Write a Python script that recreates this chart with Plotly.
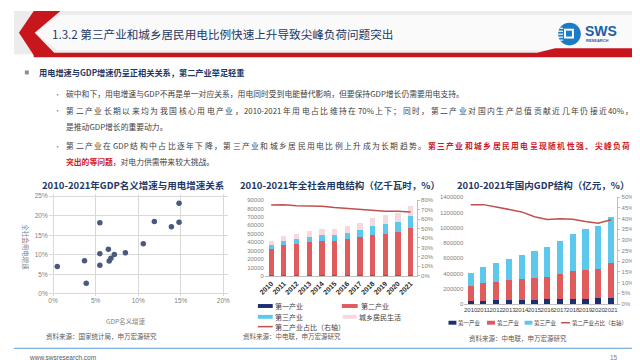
import plotly.graph_objects as go

W, H = 640, 360
def X(p): return p / W
def Y(p): return 1 - p / H

FONT = "Noto Sans CJK SC"
NAVY = "#1f3864"
C_PRI = "#1c2f72"
C_SEC = "#e05b5b"
C_TER = "#5cc8ec"
C_RES = "#f6d9dc"
C_LINE = "#c0504d"
GRAY = "#7f7f7f"
RED = "#d0191f"

# ---------------- data ----------------
years = [str(y) for y in range(2010, 2022)]

# chart 1: GDP nominal growth vs power consumption growth (%)
gdp_nominal_growth = [0.5, 3.7, 3.9, 5.5, 5.5, 5.5, 6.5, 6.6, 6.8, 7.2, 8.5, 10.6, 11.9, 13.9, 14.8, 14.8]
power_growth = [7.0, 8.5, 2.7, 18.2, 10.3, 7.3, 11.4, 8.4, 9.1, 10.1, 10.5, 12.8, 18.5, 17.2, 18.3, 23.2]
c1_x_ticks = [0, 5, 10, 15, 20]
c1_y_ticks = [0, 5, 10, 15, 20, 25]

# chart 2: electricity consumption structure (亿千瓦时)
elec_primary = [984, 1013, 1013, 1014, 994, 1020, 1075, 1155, 728, 780, 859, 1023]
elec_secondary = [31318, 35185, 36669, 39143, 40650, 40046, 42108, 44413, 47235, 49362, 51215, 56131]
elec_tertiary = [4497, 5082, 5690, 6273, 6660, 7158, 7961, 8814, 10801, 11863, 12087, 14231]
elec_residential = [5125, 5646, 6219, 6793, 6928, 7276, 8054, 8695, 9685, 10250, 10949, 11743]
elec_secondary_share = [74.7, 75.0, 73.9, 73.5, 73.6, 72.2, 71.1, 70.4, 69.0, 68.3, 68.2, 67.5]

# chart 3: GDP structure (亿元)
gdp_primary = [38431, 44781, 49085, 53028, 55626, 57775, 60139, 62100, 64745, 70474, 77754, 83086]
gdp_secondary = [191630, 227039, 244643, 261956, 277572, 281338, 295428, 331581, 364835, 380671, 383562, 450904]
gdp_tertiary = [182038, 216120, 244852, 277979, 310365, 349745, 390828, 438356, 489701, 535371, 554669, 609680]
gdp_secondary_share = [46.5, 46.5, 45.4, 44.2, 43.1, 40.8, 39.6, 39.9, 39.7, 38.6, 37.8, 39.4]

fig = go.Figure()

# chart 1 scatter
fig.add_trace(go.Scatter(x=gdp_nominal_growth, y=power_growth, mode="markers",
                         marker=dict(color="#4a5a7e", size=5.5), xaxis="x", yaxis="y"))

# chart 2 bars + line
for vals, col in [(elec_primary, C_PRI), (elec_secondary, C_SEC), (elec_tertiary, C_TER), (elec_residential, C_RES)]:
    fig.add_trace(go.Bar(x=years, y=vals, marker=dict(color=col, line=dict(width=0)),
                         width=0.42, xaxis="x2", yaxis="y2"))
fig.add_trace(go.Scatter(x=years, y=elec_secondary_share, mode="lines",
                         line=dict(color=C_LINE, width=1.5), xaxis="x2", yaxis="y3"))

# chart 3 bars + line
for vals, col in [(gdp_primary, C_PRI), (gdp_secondary, C_SEC), (gdp_tertiary, C_TER)]:
    fig.add_trace(go.Bar(x=years, y=vals, marker=dict(color=col, line=dict(width=0)),
                         width=0.48, xaxis="x3", yaxis="y4"))
fig.add_trace(go.Scatter(x=years, y=gdp_secondary_share, mode="lines",
                         line=dict(color=C_LINE, width=1.5), xaxis="x3", yaxis="y5"))

tickf = dict(family="Liberation Sans, " + FONT, size=6.5, color=GRAY)
smallf = dict(family="Liberation Sans", size=6, color=GRAY)

# chart 1 plot box: 0% at x=39.5px, 20% at 212px; 0% at y=287.7px, 25% at 188.3px
c1_px_x = (212 - 39.5) / 20
c1_px_y = (287.7 - 188.3) / 25
PADU = 0.5

fig.update_layout(
    width=W, height=H, margin=dict(l=0, r=0, t=0, b=0),
    paper_bgcolor="white", plot_bgcolor="rgba(0,0,0,0)",
    showlegend=False, barmode="stack",
    font=dict(family=FONT),
    xaxis=dict(domain=[X(39.5 - PADU * c1_px_x), X(212 + PADU * c1_px_x)], range=[-PADU, 20 + PADU],
               tickmode="array", tickvals=c1_x_ticks, ticktext=[f"{v}%" for v in c1_x_ticks],
               showgrid=True, gridcolor="#d9d9d9", gridwidth=0.8, zeroline=False,
               showline=False, tickfont=tickf, ticks="", anchor="y"),
    yaxis=dict(domain=[Y(287.7 + PADU * c1_px_y), Y(188.3 - PADU * c1_px_y)], range=[-PADU, 25 + PADU],
               tickmode="array", tickvals=c1_y_ticks, ticktext=[f"{v}%" for v in c1_y_ticks],
               showgrid=True, gridcolor="#d9d9d9", gridwidth=0.8, zeroline=False,
               showline=False, tickfont=tickf, ticks="", anchor="x"),
    xaxis2=dict(domain=[X(254), X(408)], anchor="y2", type="category", tickangle=-45,
                tickfont=dict(family="Liberation Sans, " + FONT, size=7, color="#262626", weight="bold"),
                showline=True, linecolor="#bfbfbf", ticks="", showgrid=False),
    yaxis2=dict(domain=[Y(269.3), Y(192.3)], anchor="x2", range=[0, 90000], dtick=10000, tickformat="d",
                showgrid=False, zeroline=False, tickfont=smallf, showline=False, ticks=""),
    yaxis3=dict(overlaying="y2", side="right", anchor="x2", range=[0, 80], dtick=10, ticksuffix="%",
                showgrid=False, zeroline=False, tickfont=smallf,
                showline=True, linecolor="#bfbfbf", ticks="outside", ticklen=2, tickcolor="#bfbfbf"),
    xaxis3=dict(domain=[X(456), X(611)], anchor="y4", type="category", tickangle=0,
                tickfont=dict(family="Liberation Sans", size=6, color="#404040"),
                showline=True, linecolor="#bfbfbf", ticks="", showgrid=False),
    yaxis4=dict(domain=[Y(298), Y(189.3)], anchor="x3", range=[0, 1400000], dtick=200000, tickformat="d",
                showgrid=False, zeroline=False, tickfont=smallf, showline=False, ticks=""),
    yaxis5=dict(overlaying="y4", side="right", anchor="x3", range=[0, 50], dtick=5, ticksuffix="%",
                showgrid=False, zeroline=False, tickfont=smallf,
                showline=True, linecolor="#bfbfbf", ticks="outside", ticklen=2, tickcolor="#bfbfbf"),
)

shapes = []
ann = []

def rect(x0, y0, x1, y1, color, layer="below"):
    shapes.append(dict(type="rect", xref="paper", yref="paper", x0=X(x0), x1=X(x1), y0=Y(y1), y1=Y(y0),
                       fillcolor=color, line=dict(width=0), layer=layer))

def poly(pts, color, layer="below"):
    path = "M " + " L ".join(f"{X(a):.5f},{Y(b):.5f}" for a, b in pts) + " Z"
    shapes.append(dict(type="path", xref="paper", yref="paper", path=path,
                       fillcolor=color, line=dict(width=0), layer=layer))

def text(x, y, s, size=7.8, color="#404040", anchor="left", bold=False, angle=0, family=FONT):
    ann.append(dict(x=X(x), y=Y(y), xref="paper", yref="paper", text=s, showarrow=False,
                    xanchor=anchor, yanchor="middle", textangle=angle, borderpad=0, borderwidth=0,
                    font=dict(family=family, size=size, color=color, weight="bold" if bold else "normal")))

ASCII_W = {"-": 0.36, "%": 0.88, "G": 0.72, "D": 0.73, "P": 0.63}

def tok_width(t, size):
    if ord(t[0]) < 128:
        return sum(ASCII_W.get(c, 0.56) for c in t) * size
    return size

def justify(segments, x0, x1, y, size=7.8):
    """PowerPoint-style justified line: spread tokens evenly between x0 and x1."""
    toks = []
    for s, color, bold in segments:
        buf = ""
        for ch in s:
            if ord(ch) < 128:
                buf += ch
            else:
                if buf:
                    toks.append((buf, color, bold)); buf = ""
                toks.append((ch, color, bold))
        if buf:
            toks.append((buf, color, bold))
    widths = [tok_width(t, size) for t, _, _ in toks]
    gap = (x1 - x0 - sum(widths)) / (len(toks) - 1)
    x = x0
    for (t, color, bold), w in zip(toks, widths):
        text(x, y, t, size=size, color=color, bold=bold)
        x += w + gap

# header
rect(0, 0, 640, 44, "#ececec")
poly([(47, 4), (640, 4), (640, 40), (44, 40), (22, 22)], "#fafafa")
poly([(20, 0), (47, 0), (21, 22), (43, 45), (20, 45), (5, 22)], "#c8161d")
poly([(20, 42.5), (530, 42.5), (548, 38), (640, 38), (640, 47), (20, 47)], "#c8161d")
text(38, 23, "1.3.2 第三产业和城乡居民用电比例快速上升导致尖峰负荷问题突出", size=11.6, color=NAVY)

# logo
shapes.append(dict(type="circle", xref="paper", yref="paper", x0=X(551), x1=X(574), y0=Y(35), y1=Y(12),
                   fillcolor="#1a7cc4", line=dict(width=0)))
for i, yy in enumerate([17, 20, 23, 26, 29]):
    rect(551 + (2 if i in (0, 4) else 0), yy, 556, yy + 1.2, "white", layer="above")
rect(557, 18, 567, 28, "white", layer="above")
rect(559, 20, 565, 26, "#1a7cc4", layer="above")
text(578, 20, "SWS", size=14, color="#1b5fa6", bold=True, family="Liberation Sans")
text(579, 30, "RESEARCH", size=4, color="#1b5fa6", bold=True, family="Liberation Sans")

# bullets
rect(11, 60.5, 15, 64.5, "#8c8c8c")
text(25, 62.5, "用电增速与GDP增速仍呈正相关关系，第二产业举足轻重", size=8.2, color=NAVY, bold=True)
for yy in (84, 101, 137):
    text(40, yy, "•", size=7, color=GRAY)
text(53, 84, "碳中和下，用电增速与GDP不再是单一对应关系，用电同时受到电能替代影响，但要保持GDP增长仍需要用电支持。")
justify([("第二产业长期以来均为我国核心用电产业，2010-2021年用电占比维持在70%上下；同时，第二产业对国内生产总值贡献近几年仍接近40%，",
          "#404040", False)], 53, 627, 101)
text(53, 117, "是推动GDP增长的重要动力。")
justify([("第二产业在GDP结构中占比逐年下降，第三产业和城乡居民用电比例上升成为长期趋势。", "#404040", False),
         ("第三产业和城乡居民用电呈现随机性强、尖峰负荷", RED, True)], 53, 624, 137)
text(53, 153, "<span style='color:#d0191f'><b>突出的等问题</b></span>，对电力供需带来较大挑战。")

# chart titles
text(121, 177, "2010-2021年GDP名义增速与用电增速关系", size=9.5, color=NAVY, bold=True, anchor="center")
text(330, 177, "2010-2021年全社会用电结构（亿千瓦时，%）", size=9.5, color=NAVY, bold=True, anchor="center")
text(536, 177, "2010-2021年国内GDP结构（亿元，%）", size=9.5, color=NAVY, bold=True, anchor="center")

# chart 1 axis titles
text(12, 240, "全社会用电增速", size=6.5, color=GRAY, anchor="center", angle=90)
text(113, 315, "GDP名义增速", size=6.5, color=GRAY, anchor="center")

# legends
def swatch_bar(x0, x1, y, color):
    rect(x0, y - 2, x1, y + 2, color)

def swatch_line(x0, x1, y, color):
    shapes.append(dict(type="line", xref="paper", yref="paper", x0=X(x0), x1=X(x1), y0=Y(y), y1=Y(y),
                       line=dict(color=color, width=1.5)))

swatch_bar(247, 262, 300, C_PRI); text(264, 300, "第一产业", size=7)
swatch_bar(332, 348, 300, C_SEC); text(351, 300, "第二产业", size=7)
swatch_bar(247, 262, 311, C_TER); text(264, 311, "第三产业", size=7)
swatch_bar(333, 347, 311, C_RES); text(349, 311, "城乡居民生活", size=7)
swatch_line(247, 262, 321, C_LINE); text(264, 321, "第二产业占比（右轴）", size=7)

swatch_bar(440, 448, 317, C_PRI); text(450, 317, "第一产业", size=5.5)
swatch_bar(479, 487, 317, C_SEC); text(489, 317, "第二产业", size=5.5)
swatch_bar(517, 525, 317, C_TER); text(527, 317, "第三产业", size=5.5)
swatch_line(554, 563, 317, C_LINE); text(565, 317, "第二产业占比（右轴）", size=5.5)

# sources
text(32, 331, "资料来源：国家统计局，申万宏源研究", size=6.5, color="#595959")
text(232, 331, "资料来源：中电联，申万宏源研究", size=6.5, color="#595959")
text(461, 333, "资料来源：中电联，申万宏源研究", size=6.5, color="#595959")

# footer
shapes.append(dict(type="line", xref="paper", yref="paper", x0=0, x1=1, y0=Y(343), y1=Y(343),
                   line=dict(color="#5b9bd5", width=1)))
text(15, 352, "www.swsresearch.com", size=6.5, color="#595959", family="Liberation Sans")
text(612, 352, "15", size=6.5, color="#7f7f7f", anchor="right", family="Liberation Sans")

fig.update_layout(shapes=shapes, annotations=ann)
fig.write_html("out.html", config={"displayModeBar": False})
